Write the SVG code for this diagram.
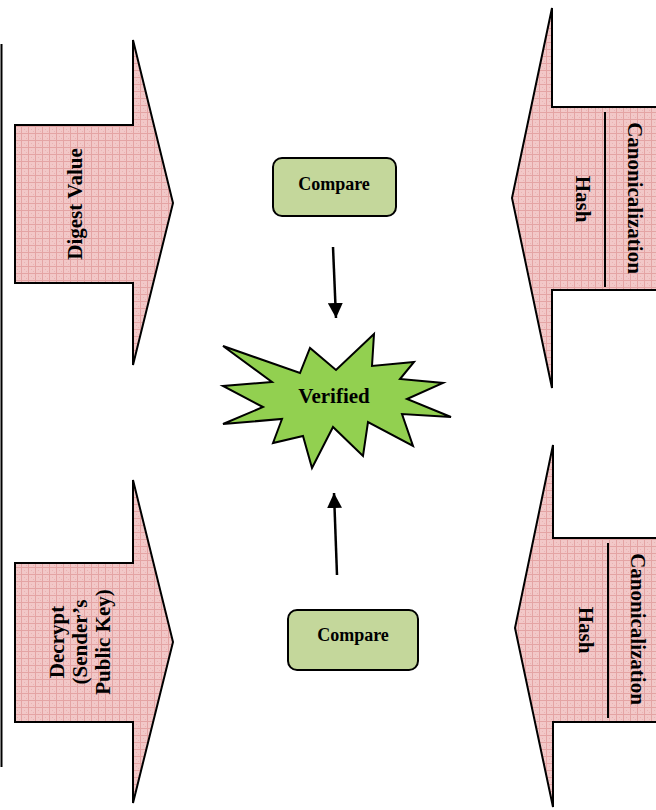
<svg xmlns="http://www.w3.org/2000/svg" width="656" height="810" viewBox="0 0 656 810">
<defs>
<pattern id="grid" width="7" height="7" patternUnits="userSpaceOnUse">
<rect width="7" height="7" fill="#f2c8c8"/>
<path d="M0 0.5H7M0.5 0V7" stroke="#e4a4a4" stroke-width="1"/>
<rect x="3" y="3" width="1" height="1" fill="#e9b4b4"/>
<rect x="5" y="5" width="1" height="1" fill="#e9b4b4"/>
</pattern>
<marker id="ah" viewBox="0 0 10 10" refX="10" refY="5" markerWidth="6" markerHeight="6" markerUnits="strokeWidth" orient="auto">
<path d="M0 0L10 5L0 10Z" fill="#000"/>
</marker>
</defs>
<style>
.big{fill:url(#grid);stroke:#000;stroke-width:2;stroke-linejoin:miter}
.lbl{font-family:"Liberation Serif","Times New Roman",serif;font-weight:bold;font-size:21px;fill:#000;text-anchor:middle}
.cmp{fill:#c4d79b;stroke:#000;stroke-width:2}
.ctext{font-family:"Liberation Serif","Times New Roman",serif;font-weight:bold;font-size:18px;fill:#000;text-anchor:middle}
.conn{stroke:#000;stroke-width:2.5;fill:none}
.sep{stroke:#000;stroke-width:2}
</style>
<line x1="1.5" y1="44" x2="1.5" y2="767" stroke="#000" stroke-width="2"/>
<g id="digest">
<path class="big" d="M15 125H133V40L173 203L133 365V283H15Z"/>
<text class="lbl" transform="translate(75,204) rotate(-90)" dy="0.35em">Digest Value</text>
</g>
<g id="decrypt">
<path class="big" d="M15 563H133V480L173 642L133 803V722H15Z"/>
<g transform="translate(80,642) rotate(-90)">
<text class="lbl" y="-23" dy="0.35em">Decrypt</text>
<text class="lbl" y="0" dy="0.35em">(Sender’s</text>
<text class="lbl" y="23" dy="0.35em">Public Key)</text>
</g>
</g>
<g id="canon-top">
<path class="big" d="M660 107H552V8L512 198L552 388V290H660Z"/>
<line class="sep" x1="605" y1="112" x2="605" y2="287"/>
<text class="lbl" transform="translate(635,198) rotate(90)" dy="0.35em">Canonicalization</text>
<text class="lbl" transform="translate(583,199) rotate(90)" dy="0.35em">Hash</text>
</g>
<g id="canon-bottom">
<path class="big" d="M660 538H553V445L515 628L553 807V722H660Z"/>
<line class="sep" x1="608" y1="543" x2="608" y2="718"/>
<text class="lbl" transform="translate(638,629) rotate(90)" dy="0.35em">Canonicalization</text>
<text class="lbl" transform="translate(586,630) rotate(90)" dy="0.35em">Hash</text>
</g>
<g id="compare-top">
<rect class="cmp" x="273" y="158" width="123" height="58" rx="9"/>
<text class="ctext" x="334" y="184" dy="0.35em">Compare</text>
</g>
<g id="compare-bottom">
<rect class="cmp" x="288" y="610" width="130" height="60" rx="9"/>
<text class="ctext" x="353" y="635" dy="0.35em">Compare</text>
</g>
<g id="verified">
<path d="M223 346L300 373L310 348L336 370L374 334L372 366L414 362L400 379L443 383L407 399L451 417L402 414L413 446L368 422L363 456L333 427L312 468L303 436L273 443L282 419L223 424L263 407L223 386L272 382Z" fill="#92d050" stroke="#000" stroke-width="2" stroke-linejoin="miter"/>
<text class="lbl" x="334" y="396" dy="0.35em">Verified</text>
</g>
<g id="connectors">
<line class="conn" x1="333" y1="247" x2="336" y2="318" marker-end="url(#ah)"/>
<line class="conn" x1="337" y1="575" x2="334" y2="493" marker-end="url(#ah)"/>
</g>
</svg>
